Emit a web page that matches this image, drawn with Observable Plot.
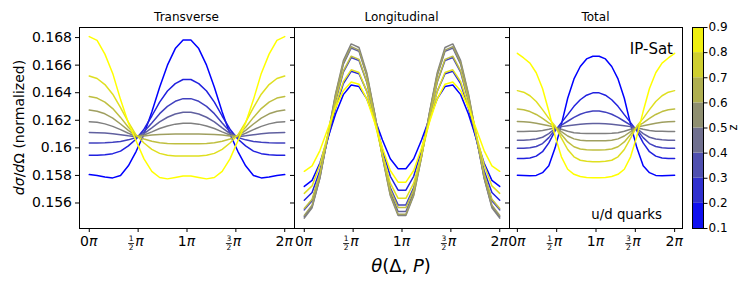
<!DOCTYPE html>
<html><head><meta charset="utf-8">
<script src="https://cdn.jsdelivr.net/npm/d3@7"></script>
<script src="https://cdn.jsdelivr.net/npm/@observablehq/plot@0.6"></script>
<style>
body{margin:0;background:#fff;}
#wrap{position:relative;width:739px;height:296px;font-family:"DejaVu Sans",sans-serif;overflow:hidden;}
#wrap svg{max-width:none !important;}
</style></head><body><div id="wrap"></div>
<script>
// theta in units of pi
const thetaPi = [0,0.08,0.16,0.24,0.32,0.40,0.48,0.56,0.64,0.72,0.80,0.88,0.96,1.04,1.12,1.20,1.28,1.36,1.44,1.52,1.60,1.68,1.76,1.84,1.92,2.00];
const zLevels = [0.1,0.2,0.3,0.4,0.5,0.6,0.7,0.8,0.9];
const panelTitles = ["Transverse","Longitudinal","Total"];
const xTickValues = [0,0.5,1,1.5,2];
const xTickLabels = ["0","1/2","1","3/2","2"];
const yTickValues = [0.156,0.158,0.160,0.162,0.164,0.166,0.168];
const yTickLabels = ["0.156","0.158","0.16","0.162","0.164","0.166","0.168"];
const zTickValues = [0.1,0.2,0.3,0.4,0.5,0.6,0.7,0.8,0.9];
const zTickLabels = ["0.1","0.2","0.3","0.4","0.5","0.6","0.7","0.8","0.9"];

const transverse = [
[0.15806,0.15800,0.15788,0.15782,0.15800,0.15870,0.15975,0.16100,0.16260,0.16440,0.16600,0.16720,0.16783,0.16783,0.16720,0.16600,0.16440,0.16260,0.16100,0.15975,0.15870,0.15800,0.15782,0.15788,0.15800,0.15806],
[0.15947,0.15947,0.15950,0.15958,0.15976,0.16014,0.16064,0.16135,0.16231,0.16332,0.16412,0.16466,0.16496,0.16496,0.16466,0.16412,0.16332,0.16231,0.16135,0.16064,0.16014,0.15976,0.15958,0.15950,0.15947,0.15947],
[0.16036,0.16036,0.16037,0.16040,0.16046,0.16058,0.16075,0.16116,0.16181,0.16248,0.16301,0.16338,0.16357,0.16357,0.16338,0.16301,0.16248,0.16181,0.16116,0.16075,0.16058,0.16046,0.16040,0.16037,0.16036,0.16036],
[0.16111,0.16110,0.16107,0.16102,0.16095,0.16087,0.16081,0.16103,0.16145,0.16188,0.16222,0.16246,0.16258,0.16258,0.16246,0.16222,0.16188,0.16145,0.16103,0.16081,0.16087,0.16095,0.16102,0.16107,0.16110,0.16111],
[0.16189,0.16185,0.16174,0.16156,0.16132,0.16106,0.16083,0.16093,0.16116,0.16140,0.16159,0.16172,0.16179,0.16179,0.16172,0.16159,0.16140,0.16116,0.16093,0.16083,0.16106,0.16132,0.16156,0.16174,0.16185,0.16189],
[0.16274,0.16266,0.16247,0.16216,0.16173,0.16127,0.16086,0.16086,0.16093,0.16097,0.16099,0.16100,0.16100,0.16100,0.16100,0.16099,0.16097,0.16093,0.16086,0.16086,0.16127,0.16173,0.16216,0.16247,0.16266,0.16274],
[0.16373,0.16361,0.16332,0.16285,0.16221,0.16150,0.16089,0.16064,0.16048,0.16037,0.16032,0.16030,0.16030,0.16030,0.16030,0.16032,0.16037,0.16048,0.16064,0.16089,0.16150,0.16221,0.16285,0.16332,0.16361,0.16373],
[0.16521,0.16503,0.16459,0.16389,0.16292,0.16186,0.16093,0.16035,0.15989,0.15960,0.15946,0.15941,0.15940,0.15940,0.15941,0.15946,0.15960,0.15989,0.16035,0.16093,0.16186,0.16292,0.16389,0.16459,0.16503,0.16521],
[0.16807,0.16780,0.16680,0.16540,0.16350,0.16180,0.16050,0.15920,0.15830,0.15785,0.15775,0.15785,0.15795,0.15795,0.15785,0.15775,0.15785,0.15830,0.15920,0.16050,0.16180,0.16350,0.16540,0.16680,0.16780,0.16807]
];

const longitudinal = [
[0.15720,0.15764,0.15890,0.16068,0.16245,0.16386,0.16456,0.16445,0.16355,0.16212,0.16057,0.15921,0.15849,0.15849,0.15921,0.16057,0.16212,0.16355,0.16445,0.16456,0.16386,0.16245,0.16068,0.15890,0.15764,0.15720],
[0.15620,0.15676,0.15836,0.16062,0.16287,0.16466,0.16555,0.16538,0.16410,0.16208,0.15988,0.15794,0.15693,0.15693,0.15794,0.15988,0.16208,0.16410,0.16538,0.16555,0.16466,0.16287,0.16062,0.15836,0.15676,0.15620],
[0.15550,0.15617,0.15805,0.16072,0.16338,0.16549,0.16655,0.16633,0.16475,0.16224,0.15952,0.15712,0.15586,0.15586,0.15712,0.15952,0.16224,0.16475,0.16633,0.16655,0.16549,0.16338,0.16072,0.15805,0.15617,0.15550],
[0.15500,0.15574,0.15783,0.16078,0.16373,0.16607,0.16724,0.16700,0.16524,0.16246,0.15944,0.15677,0.15538,0.15538,0.15677,0.15944,0.16246,0.16524,0.16700,0.16724,0.16607,0.16373,0.16078,0.15783,0.15574,0.15500],
[0.15490,0.15566,0.15782,0.16087,0.16392,0.16633,0.16754,0.16728,0.16544,0.16252,0.15935,0.15655,0.15509,0.15509,0.15655,0.15935,0.16252,0.16544,0.16728,0.16754,0.16633,0.16392,0.16087,0.15782,0.15566,0.15490],
[0.15510,0.15584,0.15793,0.16088,0.16383,0.16617,0.16734,0.16709,0.16529,0.16244,0.15934,0.15661,0.15519,0.15519,0.15661,0.15934,0.16244,0.16529,0.16709,0.16734,0.16617,0.16383,0.16088,0.15793,0.15584,0.15510],
[0.15560,0.15627,0.15815,0.16082,0.16348,0.16559,0.16665,0.16642,0.16480,0.16222,0.15942,0.15696,0.15567,0.15567,0.15696,0.15942,0.16222,0.16480,0.16642,0.16665,0.16559,0.16348,0.16082,0.15815,0.15627,0.15560],
[0.15670,0.15724,0.15877,0.16093,0.16309,0.16480,0.16566,0.16546,0.16409,0.16190,0.15953,0.15744,0.15634,0.15634,0.15744,0.15953,0.16190,0.16409,0.16546,0.16566,0.16480,0.16309,0.16093,0.15877,0.15724,0.15670],
[0.15830,0.15869,0.15980,0.16136,0.16292,0.16415,0.16477,0.16462,0.16354,0.16184,0.15999,0.15836,0.15751,0.15751,0.15836,0.15999,0.16184,0.16354,0.16462,0.16477,0.16415,0.16292,0.16136,0.15980,0.15869,0.15830]
];

const total = [
[0.15801,0.15800,0.15798,0.15800,0.15820,0.15870,0.16000,0.16170,0.16360,0.16500,0.16590,0.16645,0.16664,0.16664,0.16645,0.16590,0.16500,0.16360,0.16170,0.16000,0.15870,0.15820,0.15800,0.15798,0.15800,0.15801],
[0.15922,0.15922,0.15927,0.15940,0.15972,0.16036,0.16123,0.16183,0.16241,0.16301,0.16349,0.16382,0.16399,0.16399,0.16382,0.16349,0.16301,0.16241,0.16183,0.16123,0.16036,0.15972,0.15940,0.15927,0.15922,0.15922],
[0.15998,0.15998,0.16001,0.16010,0.16031,0.16074,0.16132,0.16165,0.16193,0.16221,0.16244,0.16259,0.16268,0.16268,0.16259,0.16244,0.16221,0.16193,0.16165,0.16132,0.16074,0.16031,0.16010,0.16001,0.15998,0.15998],
[0.16056,0.16056,0.16058,0.16064,0.16077,0.16103,0.16139,0.16154,0.16160,0.16166,0.16171,0.16175,0.16177,0.16177,0.16175,0.16171,0.16166,0.16160,0.16154,0.16139,0.16103,0.16077,0.16064,0.16058,0.16056,0.16056],
[0.16119,0.16119,0.16120,0.16121,0.16126,0.16135,0.16146,0.16135,0.16120,0.16110,0.16106,0.16104,0.16104,0.16104,0.16104,0.16106,0.16110,0.16120,0.16135,0.16146,0.16135,0.16126,0.16121,0.16120,0.16119,0.16119],
[0.16191,0.16189,0.16185,0.16179,0.16170,0.16160,0.16151,0.16118,0.16086,0.16065,0.16055,0.16052,0.16051,0.16051,0.16052,0.16055,0.16065,0.16086,0.16118,0.16151,0.16160,0.16170,0.16179,0.16185,0.16189,0.16191],
[0.16281,0.16276,0.16263,0.16242,0.16213,0.16181,0.16154,0.16097,0.16043,0.16008,0.15992,0.15987,0.15985,0.15985,0.15987,0.15992,0.16008,0.16043,0.16097,0.16154,0.16181,0.16213,0.16242,0.16263,0.16276,0.16281],
[0.16415,0.16404,0.16378,0.16336,0.16277,0.16214,0.16158,0.16070,0.15988,0.15935,0.15910,0.15902,0.15900,0.15900,0.15902,0.15910,0.15935,0.15988,0.16070,0.16158,0.16214,0.16277,0.16336,0.16378,0.16404,0.16415],
[0.16686,0.16652,0.16615,0.16545,0.16430,0.16265,0.16085,0.15935,0.15845,0.15808,0.15792,0.15785,0.15784,0.15784,0.15785,0.15792,0.15808,0.15845,0.15935,0.16085,0.16265,0.16430,0.16545,0.16615,0.16652,0.16686]
];

const colorBins = [[0.1,0.2],[0.2,0.3],[0.3,0.4],[0.4,0.5],[0.5,0.6],[0.6,0.7],[0.7,0.8],[0.8,0.9]];

const colorScale = {type:"linear", domain:[0.1,0.9], range:["#0000ff","#ffff00"], interpolate:"rgb"};
const FONT = "DejaVu Sans, sans-serif";
const wrap = document.getElementById("wrap");
function place(el, left, width){
  const d = document.createElement("div");
  d.style.cssText = `position:absolute;left:${left}px;top:0px;width:${width}px;height:296px;`;
  d.appendChild(el); wrap.appendChild(d);
}

function panel(series, title, width, ml, mr, showY){
  const rows = [];
  series.forEach((vals, k) => vals.forEach((v, i) => rows.push({theta: thetaPi[i], v, z: zLevels[k]})));
  const chart = Plot.plot({
    width, height: 296, marginLeft: ml, marginRight: mr, marginTop: 27, marginBottom: 68,
    style: {background: "transparent", overflow: "visible", fontFamily: FONT, fontSize: "14px", color: "black", maxWidth: "none"},
    x: {domain: [-0.1, 2.1], ticks: xTickValues, tickFormat: () => "", tickSize: 4, label: null},
    y: {domain: [0.15415, 0.16873], ticks: yTickValues, tickSize: 4, tickPadding: 3.5,
        tickFormat: d => showY ? yTickLabels[yTickValues.indexOf(d)] : "", label: null},
    color: colorScale,
    marks: [
      Plot.line(rows, {x: "theta", y: "v", z: "z", stroke: "z", strokeWidth: 1.5, strokeLinejoin: "miter"}),
      Plot.frame({stroke: "black", strokeWidth: 1})
    ]
  });
  const sx = chart.scale("x");
  const svg = d3.select(chart);
  xTickValues.forEach((v, i) => {
    const px = sx.apply(v);
    const lab = xTickLabels[i];
    if (lab.includes("/")) {
      const [n, dd] = lab.split("/");
      svg.append("text").attr("x", px - 6.5).attr("y", 241).attr("text-anchor", "middle")
        .attr("font-size", 7.5).attr("font-family", FONT).attr("fill", "black").text(n);
      svg.append("line").attr("x1", px - 9.5).attr("x2", px - 3.5).attr("y1", 243.5).attr("y2", 243.5)
        .attr("stroke", "black").attr("stroke-width", 0.8);
      svg.append("text").attr("x", px - 6.5).attr("y", 250).attr("text-anchor", "middle")
        .attr("font-size", 7.5).attr("font-family", FONT).attr("fill", "black").text(dd);
      svg.append("text").attr("x", px - 2.5).attr("y", 245.5).attr("text-anchor", "start")
        .attr("font-size", 14).attr("font-family", FONT).attr("font-style", "italic").attr("fill", "black").text("π");
    } else {
      const t = svg.append("text").attr("x", px).attr("y", 245.5).attr("text-anchor", "middle")
        .attr("font-size", 14).attr("font-family", FONT).attr("fill", "black");
      t.append("tspan").text(lab);
      t.append("tspan").attr("font-style", "italic").text("π");
    }
  });
  svg.append("text").attr("x", (ml + width - mr) / 2).attr("y", 21).attr("text-anchor", "middle")
    .attr("font-size", 12).attr("font-family", FONT).attr("fill", "black").text(title);
  return chart;
}

// Panel 1 (Transverse)
const c1 = panel(transverse, panelTitles[0], 304, 79, 10, true);
d3.select(c1).append("text").attr("transform", "translate(23.5,127.5) rotate(-90)").attr("text-anchor", "middle")
  .attr("font-size", 14).attr("font-family", FONT).attr("fill", "black")
  .call(t => {
    t.append("tspan").attr("font-style", "italic").text("dσ");
    t.append("tspan").text("/");
    t.append("tspan").attr("font-style", "italic").text("d");
    t.append("tspan").text("Ω (normalized)");
  });
place(c1, 0, 304);

// Panel 2 (Longitudinal)
const c2 = panel(longitudinal, panelTitles[1], 235, 10, 10, false);
d3.select(c2).append("text").attr("x", 401 - 284).attr("y", 272).attr("text-anchor", "middle")
  .attr("font-size", 18).attr("font-family", FONT).attr("fill", "black")
  .call(t => {
    t.append("tspan").attr("font-style", "italic").text("θ");
    t.append("tspan").text("(Δ, ");
    t.append("tspan").attr("font-style", "italic").text("P");
    t.append("tspan").text(")");
  });
place(c2, 284, 235);

// Panel 3 (Total)
const c3 = panel(total, panelTitles[2], 193, 10, 10, false);
d3.select(c3).append("text").attr("x", 673 - 499).attr("y", 54).attr("text-anchor", "end")
  .attr("font-size", 15).attr("font-family", FONT).attr("fill", "black").text("IP-Sat");
d3.select(c3).append("text").attr("x", 662 - 499).attr("y", 219).attr("text-anchor", "end")
  .attr("font-size", 13.3).attr("font-family", FONT).attr("fill", "black").text("u/d quarks");
place(c3, 499, 193);

// Colorbar
const bins = colorBins.map(([lo, hi]) => ({lo, hi, mid: (lo + hi) / 2}));
const cb = Plot.plot({
  width: 67, height: 296, marginLeft: 10, marginRight: 46, marginTop: 27, marginBottom: 68,
  style: {background: "transparent", overflow: "visible", fontFamily: FONT, fontSize: "12px", color: "black", maxWidth: "none"},
  x: {domain: [0, 1], axis: null},
  y: {domain: [0.1, 0.9], axis: "right", ticks: zTickValues, tickSize: 3.5, tickPadding: 1.5,
      tickFormat: d => zTickLabels[zTickValues.indexOf(d)], label: null},
  color: colorScale,
  marks: [
    Plot.rect(bins, {x1: () => 0, x2: () => 1, y1: "lo", y2: "hi", fill: "mid"}),
    Plot.frame({stroke: "black", strokeWidth: 1})
  ]
});
d3.select(cb).append("text").attr("transform", "translate(" + (733 - 682 + 4) + ",127.5) rotate(-90)")
  .attr("text-anchor", "middle").attr("font-size", 11.5).attr("font-family", FONT).attr("fill", "black").text("z");
place(cb, 682, 67);
</script></body></html>
